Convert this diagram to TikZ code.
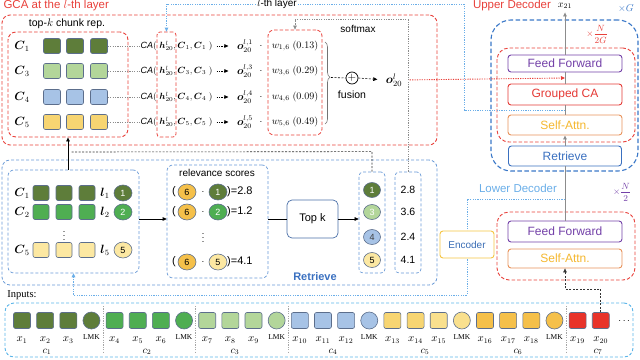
\documentclass[tikz,border=0pt]{standalone}
\usepackage{amsmath}
\usepackage{fontspec}
\setmainfont{Liberation Sans}
\newfontfamily\serifx{Liberation Serif}
\usetikzlibrary{arrows.meta,shapes.geometric,decorations.pathreplacing,calc}
\newcommand\fsz[1]{\fontsize{#1}{#1}\selectfont}
\definecolor{redc}{HTML}{E8403A}
\definecolor{redb}{HTML}{E53935}
\definecolor{bluec}{HTML}{3A78C8}
\definecolor{midblue}{HTML}{6A9AD6}
\definecolor{ltblue}{HTML}{6AAEE8}
\definecolor{inblue}{HTML}{5AB4E8}
\definecolor{purc}{HTML}{7340A8}
\definecolor{orgb}{HTML}{E8925A}
\definecolor{orgt}{HTML}{F5B830}
\definecolor{retc}{HTML}{3A70C0}
\definecolor{encb}{HTML}{F5C542}
\definecolor{enct}{HTML}{3A6DB5}
\definecolor{topkc}{HTML}{4A6FA8}
\definecolor{tokb}{HTML}{5C6E8C}
\definecolor{cA}{HTML}{5E7D3A}
\definecolor{cB}{HTML}{4FAE52}
\definecolor{cC}{HTML}{B3D69A}
\definecolor{cD}{HTML}{A7C3E6}
\definecolor{cE}{HTML}{F7D572}
\definecolor{cE2}{HTML}{F9E08E}
\definecolor{cF}{HTML}{F5C04A}
\definecolor{cG}{HTML}{E8332A}
\definecolor{cY}{HTML}{FCE8A2}
\tikzset{
  reddash/.style={draw=redc, dash pattern=on 3.5pt off 2pt, line width=0.9pt, inner sep=0pt},
  bluedash/.style={draw=bluec, dash pattern=on 4.5pt off 2.5pt, line width=1.1pt, inner sep=0pt},
  ltdash/.style={draw=midblue, dash pattern=on 3pt off 2pt, line width=0.7pt, rounded corners=6pt, inner sep=0pt},
  box/.style={rectangle, rounded corners=3pt, line width=0.9pt, fill=white, minimum width=114pt, inner sep=0pt, font=\fsz{12}},
  sq/.style={rectangle, rounded corners=2pt, draw=tokb, line width=0.6pt, minimum width=17pt, minimum height=16pt, inner sep=0pt},
  lmk/.style={circle, draw=tokb, line width=0.6pt, minimum size=17pt, inner sep=0pt},
  ball/.style={ellipse, draw=tokb, line width=0.6pt, minimum width=18pt, minimum height=16pt, inner sep=0pt, font=\fsz{9}},
  arr/.style={-{Triangle[length=4pt,width=3.6pt]}},
  vline/.style={draw=black!45, line width=0.8pt},
  dotl/.style={dash pattern=on 1.2pt off 1.2pt, line width=0.8pt},
  tight/.style={inner sep=0.5pt}
}
\begin{document}
\begin{tikzpicture}[x=1pt,y=-1pt]
\useasboundingbox (0,0) rectangle (640,359);

% ================= containers
\node[reddash, rounded corners=8pt, minimum width=435pt, minimum height=130pt] (gcabox) at (219.5,80) {};
\node[bluedash, draw=midblue, line width=0.8pt, dash pattern=on 3pt off 2pt, rounded corners=8pt, minimum width=435pt, minimum height=125pt] (retbox) at (219.5,222.5) {};
\node[ltdash, draw=inblue, line width=0.9pt, rounded corners=9pt, minimum width=628pt, minimum height=54pt] (inbox) at (319,330) {};
\node[bluedash, rounded corners=20pt, minimum width=147pt, minimum height=151pt] (updec) at (564.5,95.5) {};
\node[reddash, rounded corners=12pt, minimum width=138pt, minimum height=94pt] (upred) at (566,95) {};
\node[reddash, rounded corners=12pt, minimum width=138pt, minimum height=68pt] (lowred) at (566,246) {};

% ================= GCA section
\node[text=redc, font=\fsz{11.5}, anchor=west] (gcatitle) at (0,6) {GCA at the $l$-th layer};
\node[font=\fsz{10.5}] (toplabel) at (67,24) {top-$k$ chunk rep.};
\node[reddash, rounded corners=8pt, minimum width=120pt, minimum height=105pt] (toprep) at (68,84.5) {};
\node[reddash, rounded corners=3pt, line width=0.8pt, minimum width=19pt, minimum height=105pt] (hcol) at (166.5,84.5) {};
\node[reddash, rounded corners=6pt, line width=0.8pt, minimum width=54pt, minimum height=105pt] (wcol) at (295,82.5) {};

\foreach \i/\y/\c/\n/\w in {1/46/cA/1/0.13, 2/71/cC/3/0.29, 3/97/cD/4/0.09, 4/122/cE/5/0.49}{
  \node[font=\fsz{12}] (tC\i) at (22,\y) {$\boldsymbol{C}_{\n}$};
  \foreach \j/\x in {1/52,2/75,3/99}{
    \node[sq, fill=\c, minimum height=15pt] (tq\i\j) at (\x,\y) {};
  }
  \node[anchor=west, font=\fsz{9}, inner sep=1pt] (ca\i) at (139.5,\y) {$\mathit{CA}(\;\boldsymbol{h}^{l}_{20},\boldsymbol{C}_{\n},\boldsymbol{C}_{\n}\;)$};
  \draw[black!45, dotl, line width=0.5pt] (tq\i3.east) -- (ca\i.west);
  \node[font=\fsz{10.5}, tight] (o\i) at (245,\y) {$\boldsymbol{o}^{l,\n}_{20}$};
  \node[font=\fsz{10}, tight] (dot\i) at (261,\y) {$\cdot$};
  \node[font=\fsz{10}, tight] (w\i) at (295,\y) {$w_{\n,6}\;(\w)$};
  \draw[dotl, line width=0.6pt, arr, shorten <=3pt, shorten >=8pt] (ca\i.east) -- (o\i.west);
}

\draw[black!55, line width=0.6pt, decorate, decoration={brace, amplitude=5pt, aspect=0.43}] (325,42) -- (325,124);
\coordinate (brtip) at (331,77.5);
\node[circle, draw, line width=0.7pt, minimum size=12pt, inner sep=0pt, font=\fsz{11}] (plus) at (352,78) {$+$};
\node[font=\fsz{12}, tight] (o20) at (394,80) {$\boldsymbol{o}^{l}_{20}$};
\node[font=\fsz{10.5}] (fusion) at (352,95) {fusion};
\node[font=\fsz{10}] (softmax) at (358,29) {softmax};
\draw[dash pattern=on 2pt off 1.5pt, line width=0.6pt] (brtip) -- (plus.west);
\draw[dash pattern=on 2pt off 1.5pt, line width=0.6pt, arr, shorten >=8pt] (plus.east) -- (o20.west);

% ================= Upper decoder
\node[text=redc, font=\fsz{11.5}] (uptitle) at (512,6) {Upper Decoder};
\node[font=\fsz{10}] (x21) at (565,6) {$x_{21}$};
\node[text=bluec, font=\fsz{10}] (xG) at (626,8) {$\times G$};
\node[text=redc, font=\fsz{9.5}] (xN2G) at (597,34) {$\times\dfrac{N}{2G}$};
\node[box, draw=purc, text=purc, minimum height=17pt] (ff1) at (565,63.5) {Feed Forward};
\node[box, draw=redb, text=redb, minimum height=21pt] (gcab) at (565,94.5) {Grouped CA};
\node[box, draw=orgb, text=orgt, minimum height=20pt] (sa1) at (565,125) {Self-Attn.};
\node[box, draw=retc, text=retc, minimum width=113pt, minimum height=20pt] (ret) at (565,156) {Retrieve};

% ================= Lower decoder
\node[text=ltblue, font=\fsz{11.5}] (lowtitle) at (518,188) {Lower Decoder};
\node[text=purc, font=\fsz{9.5}] (xN2) at (622,192) {$\times\dfrac{N}{2}$};
\node[box, draw=purc, text=purc, minimum height=21pt] (ff2) at (565,231.5) {Feed Forward};
\node[box, draw=orgb, text=orgt, minimum height=19pt] (sa2) at (565,258.5) {Self-Attn.};

% main vertical line
\draw[vline] (ff2.north) -- (ret.south);
\draw[vline, arr] (ret.north) -- (sa1.south);
\draw[vline] (sa1.north) -- (gcab.south);
\draw[vline] (gcab.north) -- (ff1.south);
\draw[vline, arr] (ff1.north) -- (x21.south);
\coordinate (fftap) at (565,78);
\coordinate (hltap) at (565,110);
\coordinate (ldtap) at (565,199);

% ================= Retrieve section
\node[ltdash, minimum width=131pt, minimum height=103pt] (chunkbox) at (73.5,221.5) {};
\foreach \i/\y/\c/\n/\tc in {1/193/cA/1/white, 2/212/cB/2/white, 3/250/cY/5/black}{
  \node[font=\fsz{12}] (rC\i) at (22,\y) {$\boldsymbol{C}_{\n}$};
  \foreach \j/\x in {1/41,2/64,3/87}{
    \node[sq, fill=\c, minimum width=16pt, minimum height=15pt] (rq\i\j) at (\x,\y) {};
  }
  \node[font=\fsz{12}] (rl\i) at (105,\y) {$\boldsymbol{l}_{\n}$};
  \node[ball, fill=\c, text=\tc] (rb\i) at (123,\y) {\n};
}
\node[font=\fsz{9}, inner sep=0pt] (rvd) at (64,233) {$\vdots$};

\node[ltdash, minimum width=101pt, minimum height=113pt] (relbox) at (217.5,221.5) {};
\node[font=\fsz{10}] (reltitle) at (217,173) {relevance scores};
\foreach \i/\y/\c/\n/\s/\tc in {1/192/cA/1/2.8/white, 2/212/cB/2/1.2/white, 3/262/cY/5/4.1/black}{
  \node[font=\fsz{11}, tight] (rp\i) at (174,\y) {(};
  \node[ball, fill=cF] (rs\i) at (187,\y) {6};
  \node[font=\fsz{10}, tight] (rd\i) at (203,\y) {$\cdot$};
  \node[ball, fill=\c, text=\tc] (rn\i) at (218,\y) {\n};
  \node[anchor=west, font=\fsz{11}, inner sep=0.5pt] (rv\i) at (226.5,\y) {)=\s};
}
\node[font=\fsz{9}, inner sep=0pt] (rvd2) at (203,235) {$\vdots$};

\node[draw=topkc, rounded corners=5pt, line width=0.7pt, minimum width=51pt, minimum height=38pt, inner sep=0pt, font=\fsz{11}] (topk) at (312.5,219) {Top k};

\node[ltdash, rounded corners=4pt, minimum width=26pt, minimum height=101pt] (selbox) at (372,222.5) {};
\node[ltdash, rounded corners=4pt, minimum width=26pt, minimum height=101pt] (scorebox) at (408,222.5) {};
\foreach \i/\y/\c/\n/\tc/\s in {1/190/cA/1/white/2.8, 2/212/cC/3/white/3.6, 3/237/cD/4/black!75/2.4, 4/260/cY/5/black/4.1}{
  \node[ball, fill=\c, text=\tc, minimum width=17pt, minimum height=15pt] (sb\i) at (372,\y) {\n};
  \node[font=\fsz{10.5}] (sv\i) at (408,\y) {\s};
}
\node[text=retc, font=\bfseries\fsz{11}] (rettitle) at (315,277) {Retrieve};

% retrieve connectors
\draw[arr, line width=0.7pt] (toprep.south |- chunkbox.north) -- (toprep.south);
\draw[arr, line width=0.7pt] (chunkbox.east |- topk.west) -- (relbox.west |- topk.west);
\draw[line width=0.6pt] (relbox.east |- topk.west) -- (topk.west);
\draw[arr, line width=0.6pt] (topk.east) -- (selbox.west |- topk.east);
\draw[black!80, dash pattern=on 2pt off 1.5pt, line width=0.6pt] (selbox.north) -- ++(0,-20) -- (71,152);
\draw[black!45, dotl, line width=0.7pt, arr] (scorebox.north) -- ++(0,-152) -| (wcol.north);

% long dotted links
\draw[ltblue, dotl, line width=0.9pt, arr] (hltap) -- (464,110) -- (464,4) -| (hcol.north);
\node[fill=white, font=\fsz{10}, inner sep=1.5pt] (lth) at (277,4) {$l$-th layer};
\draw[redc, dotl, line width=0.9pt, arr, shorten <=7pt] (o20.east) -- (fftap);
\draw[ltblue, dotl, line width=0.9pt, arr] (ldtap) -- (467,199) -- (467,295) -| (chunkbox.south);
\node[draw=encb, text=enct, fill=white, rounded corners=3pt, line width=0.9pt, minimum width=54pt, minimum height=27pt, inner sep=0pt, font=\fsz{10}] (enc) at (467,244.5) {Encoder};

% ================= Inputs
\node[font=\serifx\fsz{10.5}] (inlabel) at (22,295) {Inputs:};
\foreach \k/\c/\n in {0/cA/1, 1/cA/2, 2/cA/3, 4/cB/4, 5/cB/5, 6/cB/6, 8/cC/7, 9/cC/8, 10/cC/9, 12/cD/10, 13/cD/11, 14/cD/12, 16/cE/13, 17/cE/14, 18/cE2/15, 20/cF/16, 21/cF/17, 22/cF/18, 24/cG/19, 25/cG/20}{
  \node[sq, fill=\c] (tok\k) at ({22+\k*23.15},320.5) {};
  \node[font=\fsz{10.5}, tight] (lab\k) at ({22+\k*23.15},340) {$x_{\n}$};
}
\foreach \k/\c in {3/cA, 7/cB, 11/cC, 15/cD, 19/cE2, 23/cF}{
  \node[lmk, fill=\c] (tok\k) at ({22+\k*23.15},320.5) {};
  \node[font=\serifx\fsz{7.5}, tight] (lab\k) at ({22+\k*23.15},337.5) {LMK};
}
\foreach \x in {103,195.6,288.2,566}{
  \draw[black!35, dotl, line width=0.5pt] (\x,306) -- (\x,352);
}
\foreach \x/\n in {47/1,147/2,235/3,333/4,425/5,518/6,598/7}{
  \node[font=\fsz{10}, tight] (cl\n) at (\x,352) {$c_{\n}$};
}
\node[font=\fsz{10}] (more) at (625,321) {$\cdots$};
\draw[black!80, dash pattern=on 2pt off 1.5pt, line width=0.6pt, arr] (tok25.north) -- ++(0,-23) -| (sa2.south);

\end{tikzpicture}
\end{document}
